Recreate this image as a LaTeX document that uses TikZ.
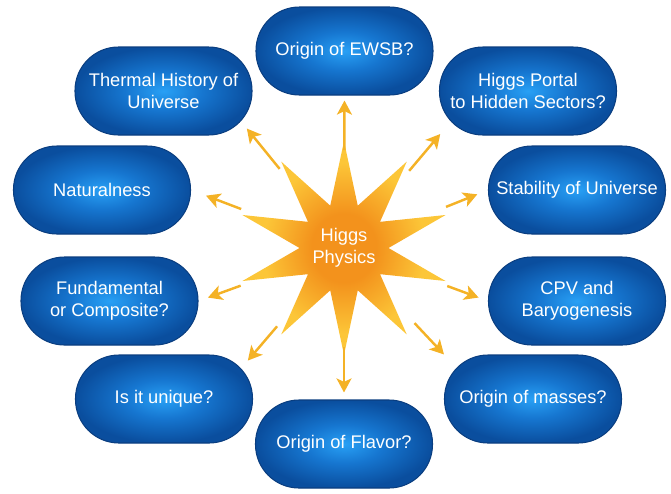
\documentclass[tikz,border=0pt]{standalone}
\usepackage{fontspec}
\setmainfont{Liberation Sans}
\usepackage{tikz}
\usetikzlibrary{arrows.meta, shapes.geometric}
\definecolor{topic_in}{RGB}{40,160,245}
\definecolor{topic_mid}{RGB}{22,118,208}
\definecolor{topic_out}{RGB}{10,78,158}
\definecolor{topic_edge}{RGB}{10,62,128}
\definecolor{burst_in}{RGB}{243,146,28}
\definecolor{burst_out}{RGB}{252,198,56}
\definecolor{ray_col}{RGB}{244,178,38}
\pgfdeclareradialshading{topicshade}{\pgfpoint{0bp}{0bp}}{color(0bp)=(topic_in); color(11bp)=(topic_mid); color(25bp)=(topic_out); color(50bp)=(topic_out)}
\pgfdeclareradialshading{burstshade}{\pgfpoint{0bp}{0bp}}{color(0bp)=(burst_in); color(8bp)=(burst_in); color(20bp)=(burst_out); color(50bp)=(burst_out)}

\begin{document}
\begin{tikzpicture}[>=Stealth,
      topic/.style={rectangle, rounded corners=0.87cm, minimum width=3.54cm,
        minimum height=1.76cm, inner sep=2pt, shading=topicshade, draw=topic_edge,
        line width=0.6pt, text=white, align=center,
        font=\fontsize{10.4}{12.6}\selectfont},
      burst/.style={star, star points=10, star point ratio=2.4, minimum size=3.72cm,
        inner sep=0pt, shading=burstshade, text=white, align=center,
        font=\fontsize{10.4}{12.6}\selectfont},
      ray/.style={-{Stealth[length=8pt, width=8.5pt, inset=2pt]}, draw=ray_col,
        line width=1.4pt}]

    \useasboundingbox (0,0) rectangle (13.42,-9.86);

    %% ---- centre -----------------------------------------------------------
    \node[burst] (higgs) at (6.88,-4.96) {Higgs\\Physics};

    %% ---- open questions round it ------------------------------------------
    \node[topic] (ewsb)    at (6.89,-1.02)  {Origin of EWSB?};
    \node[topic] (thermal) at (3.27,-1.82)  {Thermal History of\\Universe};
    \node[topic] (portal)  at (10.56,-1.82) {Higgs Portal\\to Hidden Sectors?};
    \node[topic] (natural) at (2.04,-3.80)  {Naturalness};
    \node[topic] (stable)  at (11.54,-3.80) {Stability of Universe};
    \node[topic] (fundam)  at (2.19,-6.02)  {Fundamental\\or Composite?};
    \node[topic] (cpv)     at (11.54,-6.02) {CPV and\\Baryogenesis};
    \node[topic] (unique)  at (3.28,-7.98)  {Is it unique?};
    \node[topic] (masses)  at (10.66,-7.98) {Origin of masses?};
    \node[topic] (flavor)  at (6.88,-8.88)  {Origin of Flavor?};

    %% ---- rays -------------------------------------------------------------
    \draw[ray, shorten <=1.96cm, shorten >=0.10cm]  (higgs.center) -- (ewsb.south);
    \draw[ray, shorten <=2.04cm, shorten >=-0.18cm] (higgs.center) -- (thermal.south east);
    \draw[ray, shorten <=2.02cm, shorten >=-0.04cm] (higgs.center) -- (portal.south west);
    \draw[ray, shorten <=2.20cm, shorten >=0.32cm]  (higgs.center) -- (natural.east);
    \draw[ray, shorten <=2.20cm, shorten >=0.23cm]  (higgs.center) -- (stable.west);
    \draw[ray, shorten <=2.20cm, shorten >=0.20cm]  (higgs.center) -- (fundam.east);
    \draw[ray, shorten <=2.20cm, shorten >=0.20cm]  (higgs.center) -- (cpv.west);
    \draw[ray, shorten <=2.06cm, shorten >=-0.16cm] (higgs.center) -- (unique.north east);
    \draw[ray, shorten <=2.06cm, shorten >=0cm]     (higgs.center) -- (masses.north west);
    \draw[ray, shorten <=1.98cm, shorten >=0.14cm]  (higgs.center) -- (flavor.north);
  \end{tikzpicture}
\end{document}
